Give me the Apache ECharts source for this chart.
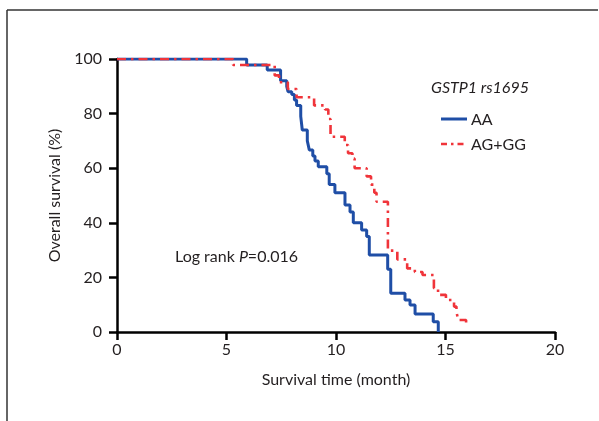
<!DOCTYPE html>
<html>
<head>
<meta charset="utf-8">
<script src="https://cdn.jsdelivr.net/npm/echarts@6/dist/echarts.min.js"></script>
<style>
html,body{margin:0;padding:0;background:#fff;}
#chart{width:599px;height:421px;}
</style>
</head>
<body>
<div id="chart"></div>
<script>
// Kaplan-Meier steps: time (months) and survival (%) after each event
const blueTimes = [0, 5.92, 6.86, 7.47, 7.75, 7.81, 7.98, 8.10, 8.20, 8.39, 8.46, 8.69, 8.78, 8.94, 9.04, 9.19, 9.58, 9.69, 9.95, 10.41, 10.64, 10.79, 11.17, 11.40, 11.52, 12.36, 12.50, 13.15, 13.38, 13.61, 14.44, 14.67];
const blueSurv  = [100, 97.8, 96, 92, 90, 88, 87, 85, 83, 79, 74, 70, 66.7, 64.5, 62.6, 60.5, 58, 54, 51, 46.5, 44, 40, 37.4, 35, 28.2, 23, 14.2, 11.7, 9.9, 6.6, 3.8, 0];
const redTimes  = [0, 5.3, 7.2, 7.4, 7.8, 8.2, 9.0, 9.5, 9.65, 9.75, 10.4, 10.55, 10.75, 10.85, 11.4, 11.6, 11.75, 11.85, 12.37, 12.8, 13.25, 13.6, 13.95, 14.47, 14.66, 15.02, 15.39, 15.5, 15.58, 15.94, 16.0];
const redSurv   = [100, 97.8, 94, 91.5, 89, 86, 83, 81.5, 78, 71.5, 68.5, 65.5, 63.5, 60, 57, 54, 51, 47.7, 29.8, 26.6, 23.3, 22, 20.9, 16, 13.6, 11.7, 9.3, 7.4, 4.4, 2.9, 2.9];
const seriesNames = ['AA', 'AG+GG'];
const legendTitle = 'GSTP1 rs1695';
const xTicks = [0, 5, 10, 15, 20];
const yTicks = [0, 20, 40, 60, 80, 100];

const FONT = "Lato, 'Liberation Sans Narrow', sans-serif";
const BLUE = '#1f4ea6';
const RED = '#f0343a';
const TXT = '#231f20';

const chart = echarts.init(document.getElementById('chart'), null, {renderer: 'canvas'});
const toPairs = (t, s) => t.map((v, i) => [v, s[i]]);

const axisCommon = {
  axisLine: {show: true, onZero: false, lineStyle: {color: '#000', width: 2.5}},
  axisTick: {show: true, inside: false, length: 8, lineStyle: {color: '#000', width: 2.5}},
  splitLine: {show: false},
  nameLocation: 'middle',
  nameTextStyle: {fontFamily: FONT, fontSize: 16, color: TXT},
};

chart.setOption({
  animation: false,
  backgroundColor: '#fff',
  grid: {left: 117, top: 59, width: 438, height: 273, containLabel: false},
  xAxis: Object.assign({}, axisCommon, {
    type: 'value', min: xTicks[0], max: xTicks[xTicks.length - 1], interval: 5,
    name: 'Survival time (month)', nameGap: 40,
    axisLabel: {fontFamily: FONT, fontSize: 16, color: TXT, margin: 10}
  }),
  yAxis: Object.assign({}, axisCommon, {
    type: 'value', min: yTicks[0], max: yTicks[yTicks.length - 1], interval: 20,
    name: 'Overall survival (%)', nameGap: 37, nameRotate: 90,
    axisLabel: {fontFamily: FONT, fontSize: 16, color: TXT, margin: 15}
  }),
  series: [
    {
      name: seriesNames[0], type: 'line', step: 'end', symbol: 'none',
      data: toPairs(blueTimes, blueSurv),
      lineStyle: {color: BLUE, width: 3}, z: 3
    },
    {
      name: seriesNames[1], type: 'line', step: 'end', symbol: 'none',
      data: toPairs(redTimes, redSurv),
      lineStyle: {color: RED, width: 2.6, type: [9, 5, 2.5, 5]}, z: 4
    }
  ],
  graphic: [
    {type: 'line', shape: {x1: 7, y1: 10, x2: 598, y2: 10}, style: {stroke: '#333', lineWidth: 1.5}},
    {type: 'line', shape: {x1: 7, y1: 10, x2: 7, y2: 421}, style: {stroke: '#333', lineWidth: 1.5}},
    {type: 'text', left: 431, top: 80, style: {text: legendTitle, fontFamily: FONT, fontSize: 16, fontStyle: 'italic', fill: TXT}},
    {type: 'line', shape: {x1: 441, y1: 119, x2: 467, y2: 119}, style: {stroke: BLUE, lineWidth: 3}},
    {type: 'text', left: 471, top: 112, style: {text: seriesNames[0], fontFamily: FONT, fontSize: 16, fill: TXT}},
    {type: 'line', shape: {x1: 441, y1: 144, x2: 467, y2: 144}, style: {stroke: RED, lineWidth: 2.6, lineDash: [6, 4, 2.5, 4]}},
    {type: 'text', left: 471, top: 137, style: {text: seriesNames[1], fontFamily: FONT, fontSize: 16, fill: TXT}},
    {type: 'text', left: 175, top: 249, style: {
      rich: {n: {fontFamily: FONT, fontSize: 16, fill: TXT}, i: {fontFamily: FONT, fontSize: 16, fontStyle: 'italic', fill: TXT}},
      text: '{n|Log rank }{i|P}{n|=0.016}'
    }}
  ]
});
</script>
</body>
</html>
